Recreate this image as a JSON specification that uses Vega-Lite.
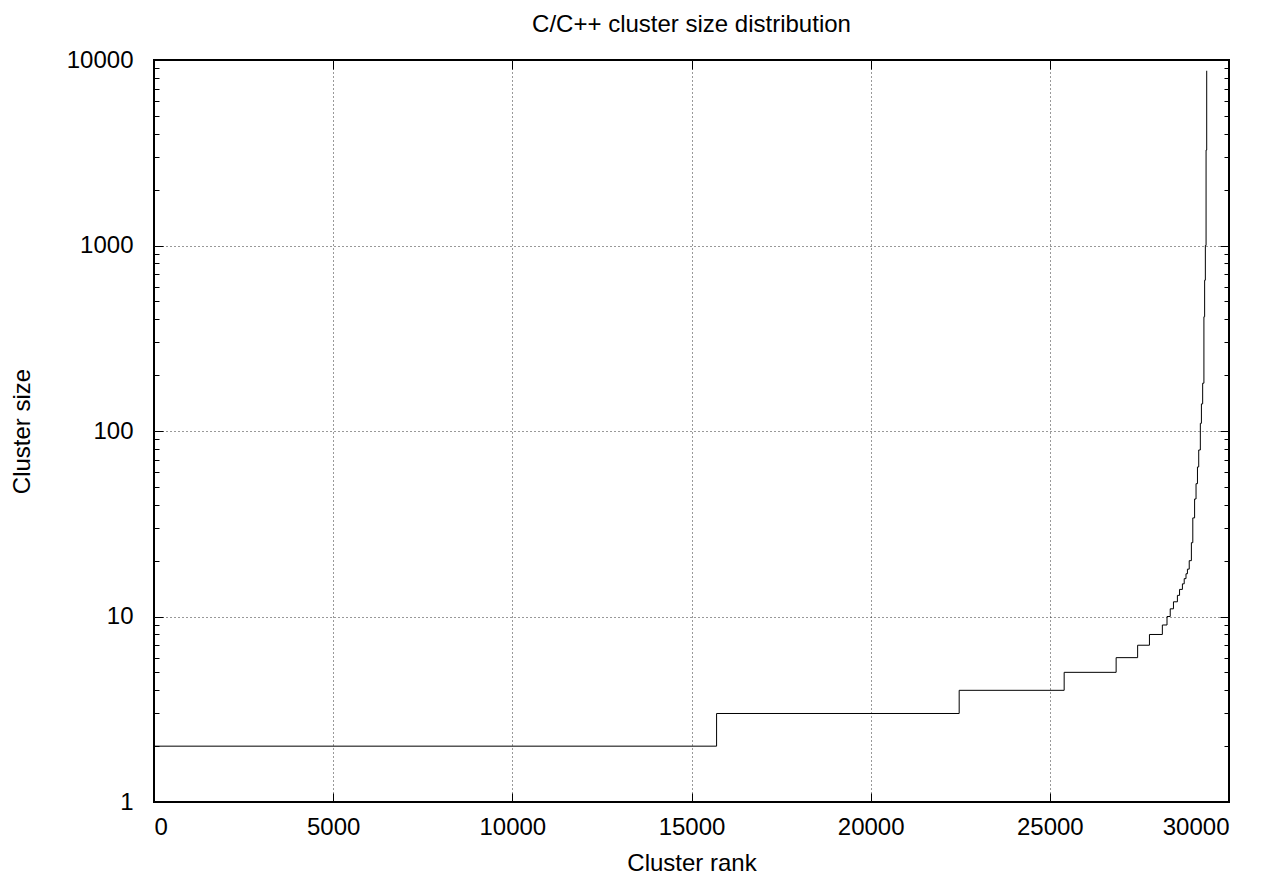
{
  "$schema": "https://vega.github.io/schema/vega-lite/v6.json",
  "autosize": "none",
  "width": 1075,
  "height": 742,
  "padding": {"left": 154, "top": 60, "right": 48, "bottom": 74},
  "background": "white",
  "config": {
    "font": "Liberation Sans",
    "view": {"stroke": "black", "strokeWidth": 2},
    "axis": {"labelFont": "Liberation Sans", "titleFont": "Liberation Sans", "labelFontSize": 24, "titleFontSize": 24, "titleFontWeight": "normal", "labelColor": "black", "titleColor": "black", "domain": false, "tickColor": "black", "gridColor": "#333", "gridDash": [1, 3], "gridWidth": 1}
  },
  "title": {"text": "C/C++ cluster size distribution", "fontSize": 24, "fontWeight": "normal", "font": "Liberation Sans", "color": "black", "offset": 11},
  "data": {"values": [
    {"rank": 0, "size": 2},
    {"rank": 15700, "size": 3},
    {"rank": 22470, "size": 4},
    {"rank": 25400, "size": 5},
    {"rank": 26850, "size": 6},
    {"rank": 27450, "size": 7},
    {"rank": 27780, "size": 8},
    {"rank": 28140, "size": 9},
    {"rank": 28270, "size": 10},
    {"rank": 28360, "size": 11},
    {"rank": 28450, "size": 12},
    {"rank": 28560, "size": 13},
    {"rank": 28620, "size": 14},
    {"rank": 28700, "size": 15},
    {"rank": 28750, "size": 16},
    {"rank": 28800, "size": 17},
    {"rank": 28840, "size": 18},
    {"rank": 28890, "size": 20},
    {"rank": 28950, "size": 25},
    {"rank": 28990, "size": 34},
    {"rank": 29040, "size": 43},
    {"rank": 29080, "size": 52},
    {"rank": 29120, "size": 64},
    {"rank": 29155, "size": 79},
    {"rank": 29200, "size": 110},
    {"rank": 29230, "size": 140},
    {"rank": 29265, "size": 181},
    {"rank": 29300, "size": 413},
    {"rank": 29320, "size": 650},
    {"rank": 29340, "size": 1000},
    {"rank": 29360, "size": 3270},
    {"rank": 29378, "size": 8750}
  ]},
  "encoding": {
    "x": {"field": "rank", "type": "quantitative", "scale": {"domain": [0, 30000], "nice": false, "zero": false}},
    "y": {"field": "size", "type": "quantitative", "scale": {"type": "log", "domain": [1, 10000], "nice": false}}
  },
  "layer": [
    {
      "mark": {"type": "line", "interpolate": "step-after", "color": "black", "strokeWidth": 1},
      "encoding": {
        "x": {"field": "rank", "type": "quantitative", "title": "Cluster rank",
          "axis": {"orient": "bottom", "values": [0, 5000, 10000, 15000, 20000, 25000, 30000], "format": "d", "tickSize": -9, "labelPadding": 22, "titlePadding": 12, "grid": true, "gridOpacity": {"condition": {"test": "datum.value == 0 || datum.value == 30000", "value": 0}, "value": 1}}},
        "y": {"field": "size", "type": "quantitative", "title": "Cluster size",
          "axis": {"orient": "left", "values": [1,2,3,4,5,6,7,8,9,10,20,30,40,50,60,70,80,90,100,200,300,400,500,600,700,800,900,1000,2000,3000,4000,5000,6000,7000,8000,9000,10000],
            "format": "d",
            "labelExpr": "indexof(['1','10','100','1000','10000'], format(datum.value, 'd')) >= 0 ? format(datum.value, 'd') : ''",
            "tickSize": {"condition": {"test": "indexof([1,10,100,1000,10000], datum.value) >= 0", "value": -9}, "value": -5},
            "labelPadding": 30, "titlePadding": 32,
            "grid": true,
            "gridOpacity": {"condition": {"test": "indexof([10,100,1000], datum.value) >= 0", "value": 1}, "value": 0}}}
      }
    },
    {
      "mark": {"type": "point", "opacity": 0},
      "encoding": {
        "x": {"field": "rank", "type": "quantitative",
          "axis": {"orient": "top", "values": [0, 5000, 10000, 15000, 20000, 25000, 30000], "labels": false, "title": null, "tickSize": -9, "grid": false}},
        "y": {"field": "size", "type": "quantitative",
          "axis": {"orient": "right", "values": [1,2,3,4,5,6,7,8,9,10,20,30,40,50,60,70,80,90,100,200,300,400,500,600,700,800,900,1000,2000,3000,4000,5000,6000,7000,8000,9000,10000], "labels": false, "title": null, "grid": false,
            "tickSize": {"condition": {"test": "indexof([1,10,100,1000,10000], datum.value) >= 0", "value": -9}, "value": -5}}}
      }
    }
  ],
  "resolve": {"axis": {"x": "independent", "y": "independent"}}
}
